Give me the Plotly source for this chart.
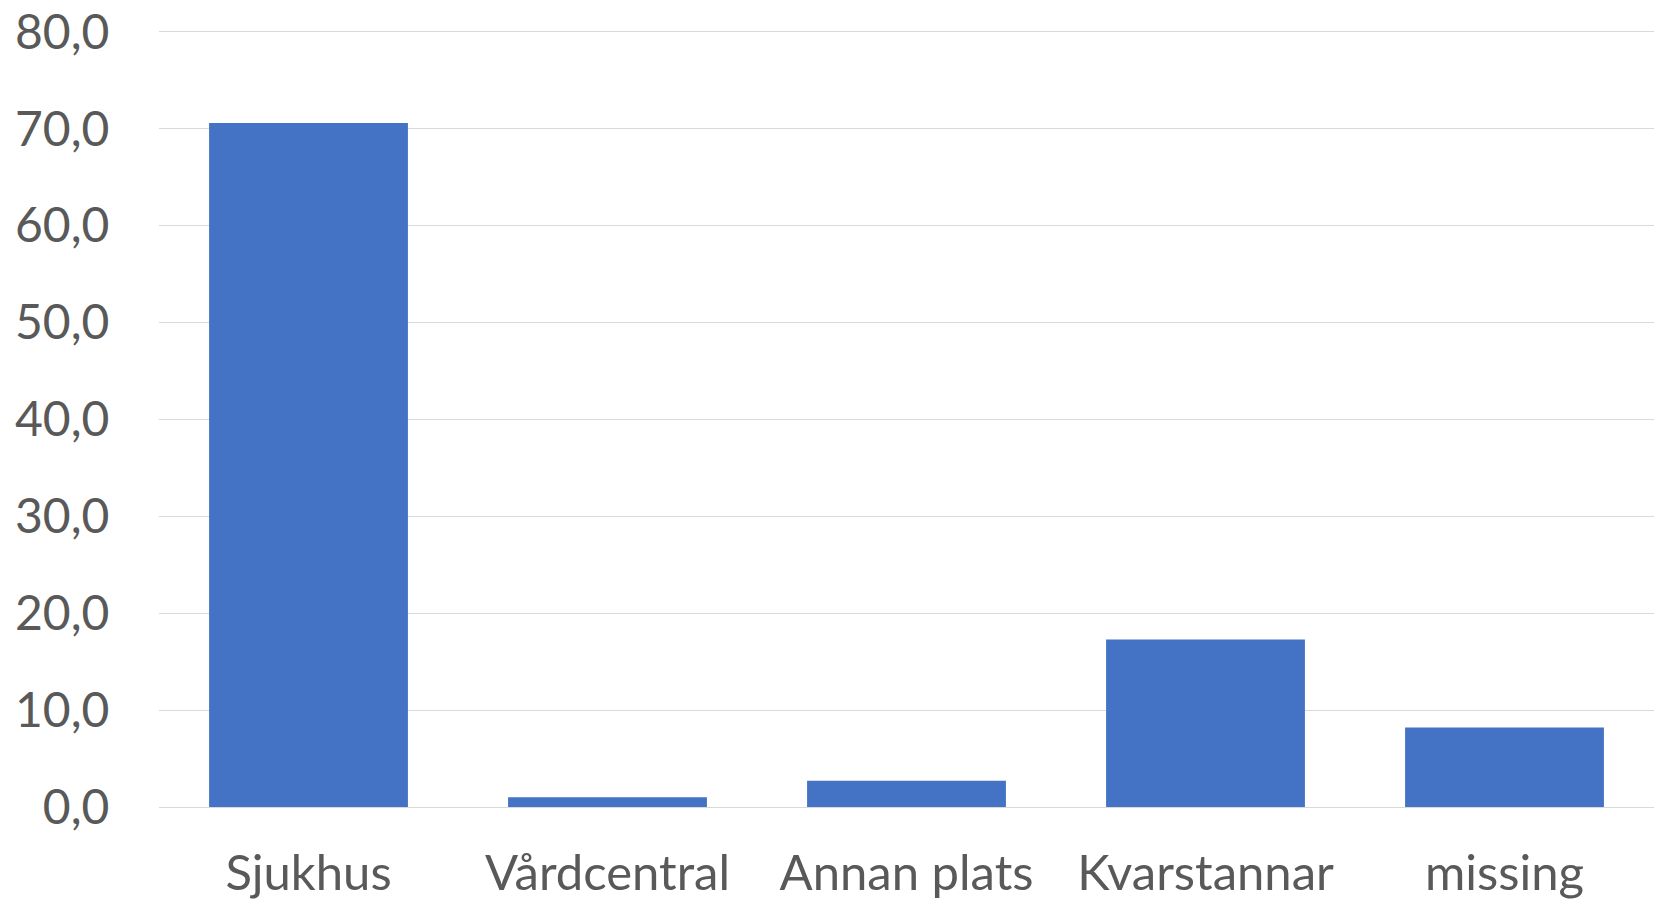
import plotly.graph_objects as go

categories = ["Sjukhus", "Vårdcentral", "Annan plats", "Kvarstannar", "missing"]
values = [70.6, 1.0, 2.7, 17.3, 8.2]
y_ticks = [0, 10, 20, 30, 40, 50, 60, 70, 80]
y_tick_labels = ["0,0", "10,0", "20,0", "30,0", "40,0", "50,0", "60,0", "70,0", "80,0"]

fig = go.Figure(go.Bar(x=categories, y=values, marker=dict(color="#4472C4", line=dict(width=0))))

font = dict(family="Lato, 'Open Sans', sans-serif", size=48, color="#595959")
xfont = dict(family="Lato, 'Open Sans', sans-serif", size=49, color="#595959")
fig.update_layout(
    width=1666, height=908,
    margin=dict(l=159, r=12, t=28, b=101),
    paper_bgcolor="white", plot_bgcolor="white",
    bargap=0.335,
    showlegend=False,
    font=font,
)
fig.update_xaxes(
    automargin=False,
    showgrid=False, showline=False, zeroline=False,
    ticks="outside", ticklen=23, tickcolor="rgba(0,0,0,0)",
    tickfont=xfont,
)
fig.update_yaxes(
    automargin=False,
    range=[0, 80.4], tickvals=y_ticks, ticktext=y_tick_labels,
    showgrid=True, gridcolor="#D9D9D9", gridwidth=1.3,
    zeroline=True, zerolinecolor="#D9D9D9", zerolinewidth=1.3,
    showline=False,
    ticks="outside", ticklen=39, tickcolor="rgba(0,0,0,0)",
    ticklabeloverflow="allow",
    tickfont=font,
)
fig.write_html(
    "out.html",
    config={"displayModeBar": False},
    post_script="document.body.style.margin='0';",
)
